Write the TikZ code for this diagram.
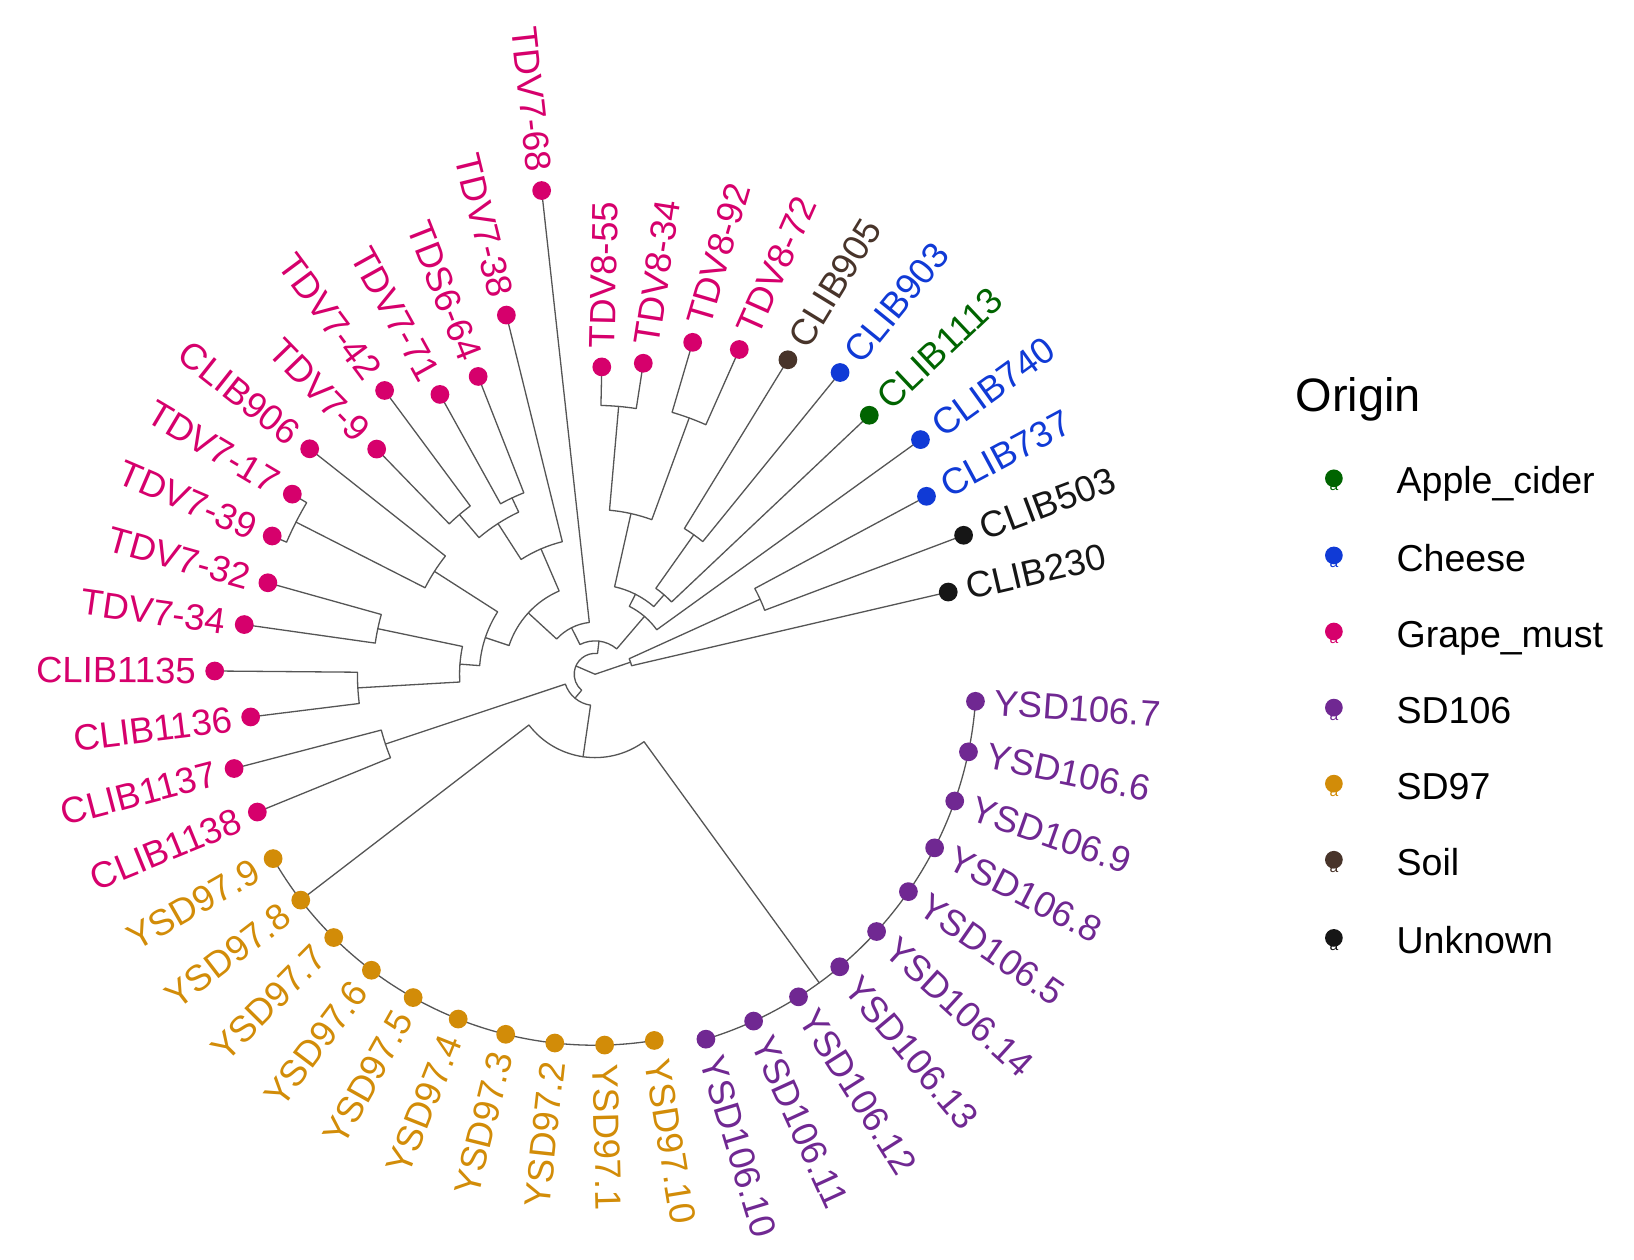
\documentclass[tikz,border=0pt]{standalone}
\usepackage{fontspec}
\setmainfont{Liberation Sans}
\definecolor{cgrape}{RGB}{214,0,108}
\definecolor{ccheese}{RGB}{16,58,214}
\definecolor{capple}{RGB}{0,100,0}
\definecolor{csdhs}{RGB}{112,40,146}
\definecolor{csdns}{RGB}{210,140,8}
\definecolor{csoil}{RGB}{72,52,42}
\definecolor{cunk}{RGB}{22,22,22}
\definecolor{cbranch}{RGB}{85,85,85}
\begin{document}
\begin{tikzpicture}[x=1pt,y=1pt,
  br/.style={draw=cbranch, line width=1.25pt, line join=round, line cap=round},
  tipdot/.style={circle, inner sep=0pt, minimum size=18pt},
  lab/.style={inner sep=0pt, font=\fontsize{35}{40}\selectfont},
  legtxt/.style={inner sep=0pt, font=\fontsize{36}{42}\selectfont, anchor=base west}]
\fill[white] (0,0) rectangle (1568,-1209);
\useasboundingbox (0,0) rectangle (1568,-1209);

\def\tipdata{t0/13.10/348/cunk/CLIB230, t1/20.66/378/cunk/CLIB503,
 t2/28.23/361/ccheese/CLIB737, t3/35.79/385/ccheese/CLIB740,
 t4/43.36/362/capple/CLIB1113, t5/50.92/373/ccheese/CLIB903,
 t6/58.48/354/csoil/CLIB905, t7/66.05/341/cgrape/TDV8-72,
 t8/73.61/332/cgrape/TDV8-92, t9/81.18/302/cgrape/TDV8-34,
 t10/88.74/295/cgrape/TDV8-55, t11/96.30/467/cgrape/TDV7-68,
 t12/103.87/355/cgrape/TDV7-38, t13/111.43/307/cgrape/TDS6-64,
 t14/119.00/307/cgrape/TDV7-71, t15/126.56/339/cgrape/TDV7-42,
 t16/134.12/301/cgrape/TDV7-9, t17/141.69/349/cgrape/CLIB906,
 t18/149.25/338/cgrape/TDV7-17, t19/156.82/337/cgrape/TDV7-39,
 t20/164.38/326/cgrape/TDV7-32, t21/171.94/340/cgrape/TDV7-34,
 t22/179.51/365/cgrape/CLIB1135, t23/187.07/333/cgrape/CLIB1136,
 t24/194.64/358/cgrape/CLIB1137, t25/202.20/350/cgrape/CLIB1138,
 a0/209.80/356/csdns/YSD97.9, a1/217.51/356/csdns/YSD97.8,
 a2/225.22/356/csdns/YSD97.7, a3/232.93/356/csdns/YSD97.6,
 a4/240.64/356/csdns/YSD97.5, a5/248.35/356/csdns/YSD97.4,
 a6/256.06/356/csdns/YSD97.3, a7/263.77/356/csdns/YSD97.2,
 a8/271.48/356/csdns/YSD97.1, a9/279.19/356/csdns/YSD97.10,
 b0/286.90/366/csdhs/YSD106.10, b1/294.57/366/csdhs/YSD106.11,
 b2/302.24/366/csdhs/YSD106.12, b3/309.91/366/csdhs/YSD106.13,
 b4/317.58/366/csdhs/YSD106.14, b5/325.25/366/csdhs/YSD106.5,
 b6/332.92/366/csdhs/YSD106.8, b7/340.59/366/csdhs/YSD106.9,
 b8/348.26/366/csdhs/YSD106.6, b9/355.93/366/csdhs/YSD106.7}

\begin{scope}[shift={(571,-647)}]
% tip positions
\foreach \id/\a/\r/\c/\t in \tipdata {\coordinate (\id) at (\a:\r pt);}
% internal nodes
\coordinate (R) at (0,0);
\coordinate (W) at (18.77:36pt);
\coordinate (PCL3) at (24.445:174pt);
\coordinate (PCL1) at (54.70:164pt);
\coordinate (PCL2) at (49.03:101pt);
\coordinate (PT8b) at (69.83:262pt);
\coordinate (PT8a) at (84.96:258pt);
\coordinate (PT8) at (77.395:158pt);
\coordinate (PB) at (63.21:86pt);
\coordinate (PC) at (49.50:73pt);
\coordinate (PA3) at (115.215:187pt);
\coordinate (PA2) at (130.34:201pt);
\coordinate (PA23) at (122.78:172pt);
\coordinate (PA4) at (113.325:131pt);
\coordinate (P1739) at (153.035:322pt);
\coordinate (PA1) at (147.36:183pt);
\coordinate (P3234) at (168.16:213pt);
\coordinate (P3536) at (183.29:228pt);
\coordinate (P3236) at (175.725:130pt);
\coordinate (PA7) at (161.54:111pt);
\coordinate (PA5) at (137.43:87pt);
\coordinate (PA6) at (116.87:50pt);
\coordinate (Q) at (83.185:32pt);
\coordinate (P3738) at (198.42:212pt);
\coordinate (S97) at (217.51:356pt);
\coordinate (S106) at (306.0:366pt);
\coordinate (NSD) at (261.75:80pt);
\coordinate (X1) at (230.085:30pt);
\coordinate (Y) at (156.635:20pt);

% branches
\draw[br] (t1) -- (20.66:174pt) arc[start angle=20.66,end angle=28.23,radius=174pt] -- (t2);
\draw[br] (t0) -- (13.10:36pt) arc[start angle=13.10,end angle=24.445,radius=36pt] -- (PCL3);
\draw[br] (t5) -- (50.92:164pt) arc[start angle=50.92,end angle=58.48,radius=164pt] -- (t6);
\draw[br] (t4) -- (43.36:101pt) arc[start angle=43.36,end angle=54.70,radius=101pt] -- (PCL1);
\draw[br] (t7) -- (66.05:262pt) arc[start angle=66.05,end angle=73.61,radius=262pt] -- (t8);
\draw[br] (t9) -- (81.18:258pt) arc[start angle=81.18,end angle=88.74,radius=258pt] -- (t10);
\draw[br] (PT8b) -- (69.83:158pt) arc[start angle=69.83,end angle=84.96,radius=158pt] -- (PT8a);
\draw[br] (PCL2) -- (49.03:86pt) arc[start angle=49.03,end angle=77.395,radius=86pt] -- (PT8);
\draw[br] (t3) -- (35.79:73pt) arc[start angle=35.79,end angle=63.21,radius=73pt] -- (PB);
\draw[br] (t13) -- (111.43:187pt) arc[start angle=111.43,end angle=119.00,radius=187pt] -- (t14);
\draw[br] (t15) -- (126.56:201pt) arc[start angle=126.56,end angle=134.12,radius=201pt] -- (t16);
\draw[br] (PA3) -- (115.215:172pt) arc[start angle=115.215,end angle=130.34,radius=172pt] -- (PA2);
\draw[br] (t12) -- (103.87:131pt) arc[start angle=103.87,end angle=122.78,radius=131pt] -- (PA23);
\draw[br] (t18) -- (149.25:322pt) arc[start angle=149.25,end angle=156.82,radius=322pt] -- (t19);
\draw[br] (t17) -- (141.69:183pt) arc[start angle=141.69,end angle=153.035,radius=183pt] -- (P1739);
\draw[br] (t20) -- (164.38:213pt) arc[start angle=164.38,end angle=171.94,radius=213pt] -- (t21);
\draw[br] (t22) -- (179.51:228pt) arc[start angle=179.51,end angle=187.07,radius=228pt] -- (t23);
\draw[br] (P3234) -- (168.16:130pt) arc[start angle=168.16,end angle=183.29,radius=130pt] -- (P3536);
\draw[br] (PA1) -- (147.36:111pt) arc[start angle=147.36,end angle=175.725,radius=111pt] -- (P3236);
\draw[br] (PA4) -- (113.325:87pt) arc[start angle=113.325,end angle=161.54,radius=87pt] -- (PA7);
\draw[br] (t11) -- (96.30:50pt) arc[start angle=96.30,end angle=137.43,radius=50pt] -- (PA5);
\draw[br] (PC) -- (49.50:32pt) arc[start angle=49.50,end angle=116.87,radius=32pt] -- (PA6);
\draw[br] (t24) -- (194.64:212pt) arc[start angle=194.64,end angle=202.20,radius=212pt] -- (t25);
\draw[br] (S97) -- (217.51:80pt) arc[start angle=217.51,end angle=306.0,radius=80pt] -- (S106);
\draw[br] (P3738) -- (198.42:30pt) arc[start angle=198.42,end angle=261.75,radius=30pt] -- (NSD);
\draw[br] (Q) -- (83.185:20pt) arc[start angle=83.185,end angle=230.085,radius=20pt] -- (X1);
\draw[br] (W) -- (R) -- (Y);
\draw[br] (a0) arc[start angle=209.80,end angle=279.19,radius=356pt];
\draw[br] (b0) arc[start angle=286.90,end angle=355.93,radius=366pt];

% tips and labels
\foreach \id/\a/\r/\c/\t in \tipdata {
  \node[tipdot, fill=\c] (\id-d) at (\id) {};
  \pgfmathsetmacro\lr{\r+18}
  \pgfmathtruncatemacro\isleft{(\a>90)&&(\a<270)}
  \ifnum\isleft=1
    \pgfmathsetmacro\rt{\a+180}
    \node[lab, text=\c, rotate=\rt, anchor=east] (\id-l) at (\a:\lr pt) {\t};
  \else
    \node[lab, text=\c, rotate=\a, anchor=west] (\id-l) at (\a:\lr pt) {\t};
  \fi
}
\end{scope}

% legend
\node[legtxt, font=\fontsize{45}{50}\selectfont] (ttl) at (1243,-395) {Origin};
\foreach \y/\c/\t in {461/capple/Apple\_cider, 535/ccheese/Cheese, 608/cgrape/Grape\_must,
  681/csdhs/SD106, 754/csdns/SD97, 827/csoil/Soil, 902/cunk/Unknown} {
  \node[legtxt] (lg-\c) at (1340,-\y-13) {\t};
  \node[text=\c, font=\fontsize{15}{15}\selectfont, inner sep=0pt] (lga-\c) at (1280,-\y-6) {a};
  \node[tipdot, fill=\c, minimum size=17pt] (lgd-\c) at (1280,-\y+2) {};
}
\end{tikzpicture}
\end{document}
